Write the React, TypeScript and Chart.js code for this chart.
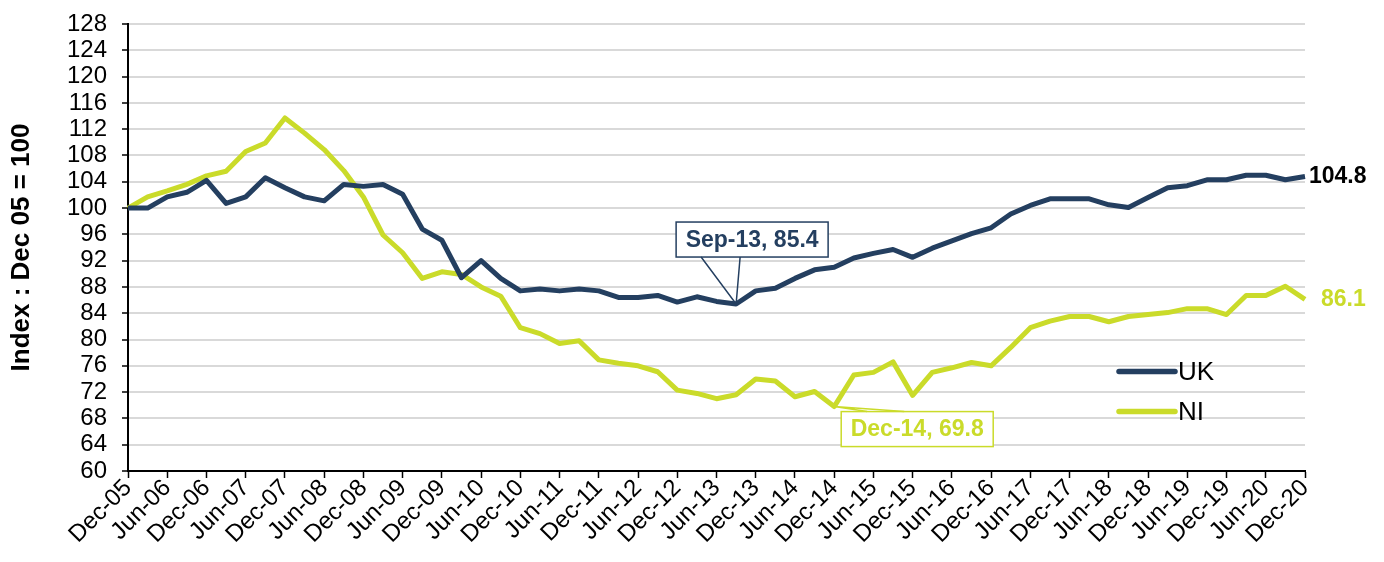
import React, { useEffect, useRef } from "react";
import { Chart, registerables } from "chart.js";

Chart.register(...registerables);

const quarterLabels: string[] = [
  "Dec-05", "Mar-06", "Jun-06", "Sep-06", "Dec-06", "Mar-07", "Jun-07", "Sep-07",
  "Dec-07", "Mar-08", "Jun-08", "Sep-08", "Dec-08", "Mar-09", "Jun-09", "Sep-09",
  "Dec-09", "Mar-10", "Jun-10", "Sep-10", "Dec-10", "Mar-11", "Jun-11", "Sep-11",
  "Dec-11", "Mar-12", "Jun-12", "Sep-12", "Dec-12", "Mar-13", "Jun-13", "Sep-13",
  "Dec-13", "Mar-14", "Jun-14", "Sep-14", "Dec-14", "Mar-15", "Jun-15", "Sep-15",
  "Dec-15", "Mar-16", "Jun-16", "Sep-16", "Dec-16", "Mar-17", "Jun-17", "Sep-17",
  "Dec-17", "Mar-18", "Jun-18", "Sep-18", "Dec-18", "Mar-19", "Jun-19", "Sep-19",
  "Dec-19", "Mar-20", "Jun-20", "Sep-20", "Dec-20",
];

const ukValues: number[] = [
  100.0, 100.0, 101.7, 102.4, 104.2, 100.7, 101.7, 104.6, 103.1, 101.7,
  101.1, 103.6, 103.3, 103.6, 102.1, 96.8, 95.1, 89.4, 92.0, 89.3,
  87.4, 87.7, 87.4, 87.7, 87.4, 86.4, 86.4, 86.7, 85.7, 86.5,
  85.8, 85.4, 87.4, 87.8, 89.3, 90.6, 91.0, 92.4, 93.1, 93.7,
  92.5, 93.9, 95.0, 96.1, 97.0, 99.1, 100.4, 101.4, 101.4, 101.4,
  100.5, 100.1, 101.6, 103.1, 103.4, 104.3, 104.3, 105.0, 105.0, 104.3,
  104.8,
];

const niValues: number[] = [
  100.0, 101.7, 102.6, 103.6, 104.9, 105.6, 108.6, 109.9, 113.7, 111.4,
  108.9, 105.7, 101.7, 95.9, 93.2, 89.3, 90.3, 89.9, 88.0, 86.6,
  81.8, 80.9, 79.4, 79.8, 76.9, 76.4, 76.0, 75.1, 72.3, 71.8,
  71.0, 71.6, 74.0, 73.7, 71.3, 72.1, 69.8, 74.6, 75.0, 76.6,
  71.5, 75.0, 75.7, 76.5, 76.0, 78.8, 81.8, 82.8, 83.5, 83.5,
  82.7, 83.5, 83.8, 84.1, 84.7, 84.7, 83.8, 86.7, 86.7, 88.1,
  86.1,
];

const seriesNames: string[] = ["UK", "NI"];
const yTitle = "Index : Dec 05 = 100";
const ukCallout = { index: 31, text: "Sep-13, 85.4" };
const niCallout = { index: 36, text: "Dec-14, 69.8" };
const ukEndLabel = "104.8";
const niEndLabel = "86.1";

const UK_COLOR = "#243f60";
const NI_COLOR = "#cadb2a";
const FONT = "'Liberation Sans', Arial, sans-serif";

const overlayPlugin = {
  id: "overlay",
  afterDatasetsDraw(chart: any) {
    const ctx = chart.ctx as CanvasRenderingContext2D;
    const xs = chart.scales.x;
    const ys = chart.scales.y;
    const area = chart.chartArea;
    ctx.save();

    // UK callout
    {
      const px = xs.getPixelForValue(ukCallout.index);
      const py = ys.getPixelForValue(ukValues[ukCallout.index]);
      const left = px - 60, right = px + 92, top = py - 82, bottom = py - 47;
      ctx.fillStyle = "#fff";
      ctx.strokeStyle = UK_COLOR;
      ctx.lineWidth = 1.5;
      ctx.fillRect(left, top, right - left, bottom - top);
      ctx.strokeRect(left, top, right - left, bottom - top);
      ctx.beginPath();
      ctx.moveTo(px - 35, bottom);
      ctx.lineTo(px, py);
      ctx.lineTo(px + 4, bottom);
      ctx.stroke();
      ctx.fillStyle = UK_COLOR;
      ctx.font = `bold 23px ${FONT}`;
      ctx.textAlign = "center";
      ctx.textBaseline = "middle";
      ctx.fillText(ukCallout.text, (left + right) / 2, (top + bottom) / 2 + 1);
    }

    // NI callout
    {
      const px = xs.getPixelForValue(niCallout.index);
      const py = ys.getPixelForValue(niValues[niCallout.index]);
      const left = px + 7, right = px + 159, top = py + 5, bottom = py + 40;
      ctx.fillStyle = "#fff";
      ctx.strokeStyle = NI_COLOR;
      ctx.lineWidth = 1.5;
      ctx.fillRect(left, top, right - left, bottom - top);
      ctx.strokeRect(left, top, right - left, bottom - top);
      ctx.beginPath();
      ctx.moveTo(px + 33, top);
      ctx.lineTo(px, py);
      ctx.lineTo(px + 70, top);
      ctx.stroke();
      ctx.fillStyle = NI_COLOR;
      ctx.font = `bold 23px ${FONT}`;
      ctx.textAlign = "center";
      ctx.textBaseline = "middle";
      ctx.fillText(niCallout.text, (left + right) / 2, (top + bottom) / 2 + 1);
    }

    // End labels
    {
      const last = ukValues.length - 1;
      const px = xs.getPixelForValue(last);
      ctx.font = `bold 23px ${FONT}`;
      ctx.textAlign = "left";
      ctx.textBaseline = "middle";
      ctx.fillStyle = "#000";
      ctx.fillText(ukEndLabel, px + 4, ys.getPixelForValue(ukValues[last]));
      ctx.fillStyle = NI_COLOR;
      ctx.fillText(niEndLabel, px + 16, ys.getPixelForValue(niValues[last]));
    }

    // Legend
    {
      const lx = area.right - 186;
      const items = [
        { name: seriesNames[0], color: UK_COLOR, y: 371.5 },
        { name: seriesNames[1], color: NI_COLOR, y: 411.5 },
      ];
      ctx.lineCap = "round";
      ctx.lineWidth = 5.5;
      ctx.font = `26px ${FONT}`;
      ctx.textAlign = "left";
      ctx.textBaseline = "middle";
      for (const it of items) {
        ctx.strokeStyle = it.color;
        ctx.beginPath();
        ctx.moveTo(lx, it.y);
        ctx.lineTo(lx + 56, it.y);
        ctx.stroke();
        ctx.fillStyle = "#000";
        ctx.fillText(it.name, lx + 59, it.y + 1);
      }
    }
    ctx.restore();
  },
};

export default function App() {
  const canvasRef = useRef<HTMLCanvasElement | null>(null);

  useEffect(() => {
    if (!canvasRef.current) return;
    const chart = new Chart(canvasRef.current, {
      type: "line",
      data: {
        labels: quarterLabels,
        datasets: [
          {
            label: seriesNames[0],
            data: ukValues,
            borderColor: UK_COLOR,
            backgroundColor: UK_COLOR,
            borderWidth: 5,
            pointRadius: 0,
            tension: 0,
            borderJoinStyle: "round",
          },
          {
            label: seriesNames[1],
            data: niValues,
            borderColor: NI_COLOR,
            backgroundColor: NI_COLOR,
            borderWidth: 5,
            pointRadius: 0,
            tension: 0,
            borderJoinStyle: "round",
          },
        ],
      },
      options: {
        animation: false,
        responsive: true,
        maintainAspectRatio: false,
        layout: { padding: { top: 24, right: 79, left: 0, bottom: 0 } },
        plugins: {
          legend: { display: false },
          tooltip: { enabled: false },
        },
        scales: {
          x: {
            type: "category",
            offset: false,
            afterBuildTicks: (scale: any) => {
              scale.ticks = scale.ticks.filter((t: any) => t.value % 2 === 0);
            },
            afterFit: (scale: any) => {
              scale.height = 91;
              scale.paddingLeft = 0;
              scale.paddingRight = 0;
            },
            ticks: {
              autoSkip: false,
              minRotation: 45,
              maxRotation: 45,
              padding: -4,
              color: "#000",
              font: { family: FONT, size: 24 },
            },
            grid: {
              display: true,
              drawOnChartArea: false,
              drawTicks: true,
              tickLength: 7,
              tickColor: "#000",
              tickWidth: 1.5,
            },
            border: { display: true, color: "#000", width: 2 },
          },
          y: {
            min: 60,
            max: 128,
            afterFit: (scale: any) => {
              scale.width = 128;
              scale.paddingTop = 0;
              scale.paddingBottom = 0;
            },
            ticks: {
              stepSize: 4,
              autoSkip: false,
              padding: 15,
              color: "#000",
              font: { family: FONT, size: 24 },
            },
            grid: {
              color: "#d9d9d9",
              lineWidth: 2,
              drawTicks: true,
              tickLength: 6,
              tickColor: "#000",
              tickWidth: 1.5,
            },
            border: { display: true, color: "#000", width: 2 },
            title: {
              display: true,
              text: yTitle,
              color: "#000",
              font: { family: FONT, size: 26, weight: "bold" },
              padding: { top: 6, bottom: 0 },
            },
          },
        },
      },
      plugins: [overlayPlugin],
    });
    return () => chart.destroy();
  }, []);

  return (
    <div style={{ position: "fixed", left: 0, top: 0, width: 1384, height: 562, background: "#fff" }}>
      <canvas ref={canvasRef} />
    </div>
  );
}
